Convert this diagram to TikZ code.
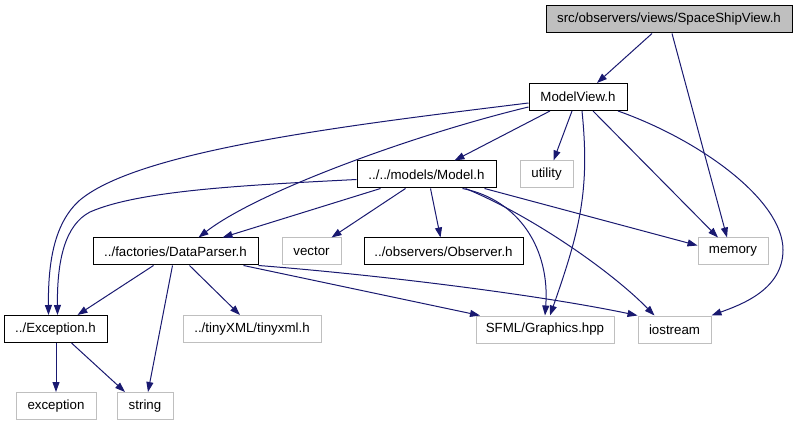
\documentclass[tikz,border=0pt]{standalone}
\usepackage{fontspec}
\setmainfont{Liberation Sans}
\usetikzlibrary{arrows.meta,positioning}
\definecolor{cA}{HTML}{191970}
\definecolor{cB}{HTML}{BFBFBF}
\newcommand\gfont{\fontsize{13.3}{16}\selectfont}
\tikzset{
  file/.style={draw=black,fill=white,line width=1pt,minimum height=27pt,
               inner sep=0pt,font=\gfont},
  sysfile/.style={file,draw=cB},
  rootfile/.style={file,fill=cB},
  dep/.style={-{Triangle[length=10pt,width=7pt]},line width=1pt,cA},
}
\begin{document}
\begin{tikzpicture}[x=1pt,y=-1pt]
  \useasboundingbox (0,0) rectangle (797,427);
  % files, one row per rank
  \node[rootfile,minimum width=246pt] (ssv) at (669,19.5){src/observers/views/SpaceShipView.h};
  \node[file,minimum width=98pt] (mv) at (578,97){ModelView.h};
  \node[file,minimum width=139pt] (mdl) at (426.5,174.5){../../models/Model.h};
  \node[sysfile,minimum width=53pt] (util) at (546.5,174.5){utility};
  \node[file,minimum width=165pt] (dp) at (175.5,251.5){../factories/DataParser.h};
  \node[sysfile,minimum width=59pt] (vec) at (311.5,251.5){vector};
  \node[file,minimum width=159pt] (obs) at (443.5,251.5){../observers/Observer.h};
  \node[sysfile,minimum width=70pt] (mem) at (733,251.5){memory};
  \node[file,minimum width=103pt] (exc) at (55.5,329){../Exception.h};
  \node[sysfile,minimum width=138pt] (txml) at (252,329){../tinyXML/tinyxml.h};
  \node[sysfile,minimum width=138pt] (sfml) at (545,329.5){SFML/Graphics.hpp};
  \node[sysfile,minimum width=73pt] (ios) at (674.5,329.5){iostream};
  \node[sysfile,minimum width=80pt] (excp) at (56,406){exception};
  \node[sysfile,minimum width=56pt] (str) at (145,406){string};
  % includes of SpaceShipView.h
  \draw[dep] ([xshift=-17pt]ssv.south) -- ([xshift=19pt]mv.north);
  \draw[dep] ([xshift=3pt]ssv.south) -- ([xshift=-6pt]mem.north);
  % includes of ModelView.h
  \draw[dep] ([xshift=-28pt]mv.south) -- ([xshift=28pt]mdl.north);
  \draw[dep] ([xshift=-6pt]mv.south) -- ([xshift=7pt]util.north);
  \draw[dep] ([xshift=4pt]mv.south) .. controls (590,190) and (580,230) .. ([xshift=5pt]sfml.north);
  \draw[dep] ([xshift=15pt]mv.south) -- ([xshift=-15pt]mem.north);
  \draw[dep] ([xshift=40pt]mv.south) .. controls (700,140) and (783,200) .. (783,250)
             .. controls (783,290) and (740,305) .. (ios.north east);
  \draw[dep] ([yshift=-6pt]mv.west) .. controls (350,125) and (140,150) .. (80,200)
             .. controls (55,222) and (48,260) .. ([xshift=-7pt]exc.north);
  \draw[dep] ([yshift=-10pt]mv.west) .. controls (420,133) and (260,190) .. ([xshift=23pt]dp.north);
  % includes of Model.h
  \draw[dep] ([yshift=-5pt]mdl.west) .. controls (250,185) and (140,190) .. (90,212)
             .. controls (65,225) and (57,260) .. ([xshift=2pt]exc.north);
  \draw[dep] ([xshift=-46pt]mdl.south) -- ([xshift=47pt]dp.north);
  \draw[dep] ([xshift=-21pt]mdl.south) -- ([xshift=20pt]vec.north);
  \draw[dep] ([xshift=4pt]mdl.south) -- ([xshift=-3pt]obs.north);
  \draw[dep] ([xshift=58pt]mdl.south) -- ([yshift=6pt]mem.west);
  \draw[dep] ([xshift=36pt]mdl.south) .. controls (520,200) and (550,250) .. (sfml.north);
  \draw[dep] ([xshift=39pt]mdl.south) .. controls (530,215) and (610,270) .. ([xshift=-20pt]ios.north);
  % includes of DataParser.h
  \draw[dep] ([xshift=-22pt]dp.south) -- ([xshift=22pt]exc.north);
  \draw[dep] ([xshift=-3pt]dp.south) -- ([xshift=3pt]str.north);
  \draw[dep] ([xshift=14pt]dp.south) -- ([xshift=-12pt]txml.north);
  \draw[dep] ([xshift=68pt]dp.south) -- ([xshift=-65pt]sfml.north);
  \draw[dep] (dp.south east) .. controls (380,275) and (540,295) .. (ios.north west);
  % includes of Exception.h
  \draw[dep] ([xshift=0.5pt]exc.south) -- (excp.north);
  \draw[dep] ([xshift=16pt]exc.south) -- ([xshift=-20pt]str.north);
\end{tikzpicture}
\end{document}
